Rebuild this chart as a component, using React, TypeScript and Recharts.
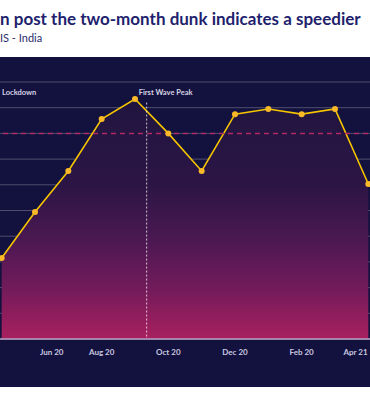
import React from 'react';
import { ComposedChart, Area, XAxis, YAxis, CartesianGrid, ReferenceLine } from 'recharts';

const months = ['May 20', 'Jun 20', 'Jul 20', 'Aug 20', 'Sep 20', 'Oct 20', 'Nov 20', 'Dec 20', 'Jan 21', 'Feb 21', 'Mar 21', 'Apr 21'];
const values = [31.5, 49.4, 65.4, 85.6, 93.4, 80, 65.4, 87.5, 89.5, 87.5, 89.5, 60.3];
const tickPositions = [1.5, 3, 5, 7, 9, 11];
const tickLabels = ['Jun 20', 'Aug 20', 'Oct 20', 'Dec 20', 'Feb 20', 'Apr 21'];
const yTicks = [0, 10, 20, 30, 40, 50, 60, 70, 80, 90, 100];
const threshold = 80;
const lockdownAt = -1.15;
const peakAt = 4.35;

const data = values.map((v, i) => ({ idx: i, month: months[i], value: v }));

const CHART_SHIFT = -14.67;
const VIEW_W = 370;

const labelFont = { fontFamily: 'Lato, sans-serif', fontSize: 7.5, fontWeight: 700, fill: '#d6d4e6' };

// label sits a little left of its line, above the top of the segment
const peakLabel = (props: any) => {
  const { viewBox } = props;
  return (
    <text x={viewBox.x - 8} y={viewBox.y - 8} {...labelFont}>
      First Wave Peak
    </text>
  );
};

// the lockdown line itself falls outside the cropped view, only the tail of its label shows
const lockdownLabel = (props: any) => {
  const { viewBox } = props;
  return (
    <text x={viewBox.x + 73} y={viewBox.y - 8} textAnchor="end" {...labelFont}>
      Lockdown
    </text>
  );
};

// keeps the last label inside the visible panel
const MonthTick = (props: any) => {
  const { x, y, payload } = props;
  const label = tickLabels[tickPositions.indexOf(payload.value)];
  const rightEdge = VIEW_W - CHART_SHIFT - 2;
  const clamp = x + 12 > rightEdge;
  return (
    <text
      x={clamp ? rightEdge : x}
      y={y}
      dy="0.71em"
      textAnchor={clamp ? 'end' : 'middle'}
      fontFamily="Lato, sans-serif"
      fontSize={8}
      fontWeight={700}
      fill="#c9c8e0"
    >
      {label}
    </text>
  );
};

export default function App() {
  return (
    <div style={{ position: 'fixed', left: 0, top: 0, width: VIEW_W, height: 395, overflow: 'hidden', background: '#fff' }}>
      <style>{'body{margin:0}'}</style>
      <div
        style={{
          position: 'absolute', left: 0, top: 8, whiteSpace: 'nowrap',
          fontFamily: 'Lato, sans-serif', fontWeight: 700, fontSize: 17, color: '#221f6e',
        }}
      >
        n post the two-month dunk indicates a speedier
      </div>
      <div
        style={{
          position: 'absolute', left: 0, top: 31, whiteSpace: 'nowrap',
          fontFamily: 'Lato, sans-serif', fontSize: 11, color: '#2b2a6e',
        }}
      >
        IS - India
      </div>
      <div style={{ position: 'absolute', left: 0, top: 57, width: VIEW_W, height: 330, background: '#13113d', overflow: 'hidden' }}>
        <div style={{ position: 'absolute', left: CHART_SHIFT, top: 0 }}>
          <ComposedChart width={400} height={330} data={data} margin={{ top: 25, right: 0, bottom: 0, left: 0 }}>
            <defs>
              <linearGradient id="fillGrad" x1="0" y1="0" x2="0" y2="1">
                <stop offset="0%" stopColor="#20153f" />
                <stop offset="36%" stopColor="#2c1545" />
                <stop offset="58%" stopColor="#4a1852" />
                <stop offset="79%" stopColor="#721b5a" />
                <stop offset="100%" stopColor="#a8205f" />
              </linearGradient>
            </defs>
            <XAxis
              type="number"
              dataKey="idx"
              domain={[-0.5, 11.5]}
              ticks={tickPositions}
              interval={0}
              height={48}
              tickLine={false}
              tickMargin={4}
              axisLine={{ stroke: '#b7a3c6', strokeWidth: 1.5 }}
              tick={<MonthTick />}
              allowDataOverflow
            />
            <YAxis hide domain={[0, 100]} ticks={yTicks} />
            <Area
              type="linear"
              dataKey="value"
              stroke="#f5c400"
              strokeWidth={1.6}
              fill="url(#fillGrad)"
              fillOpacity={1}
              dot={{ r: 3, fill: '#f9b928', stroke: 'none' }}
              activeDot={false}
              isAnimationActive={false}
            />
            <CartesianGrid vertical={false} stroke="rgba(255,255,255,0.26)" />
            <ReferenceLine y={threshold} stroke="#b02a68" strokeWidth={1.5} strokeDasharray="5 4" />
            <ReferenceLine
              segment={[{ x: peakAt, y: 92 }, { x: peakAt, y: 0 }]}
              stroke="rgba(255,255,255,0.75)"
              strokeDasharray="2 2"
              label={peakLabel}
            />
            <ReferenceLine
              segment={[{ x: lockdownAt, y: 92 }, { x: lockdownAt, y: 0 }]}
              ifOverflow="visible"
              stroke="rgba(255,255,255,0.75)"
              strokeDasharray="2 2"
              label={lockdownLabel}
            />
          </ComposedChart>
        </div>
      </div>
    </div>
  );
}
